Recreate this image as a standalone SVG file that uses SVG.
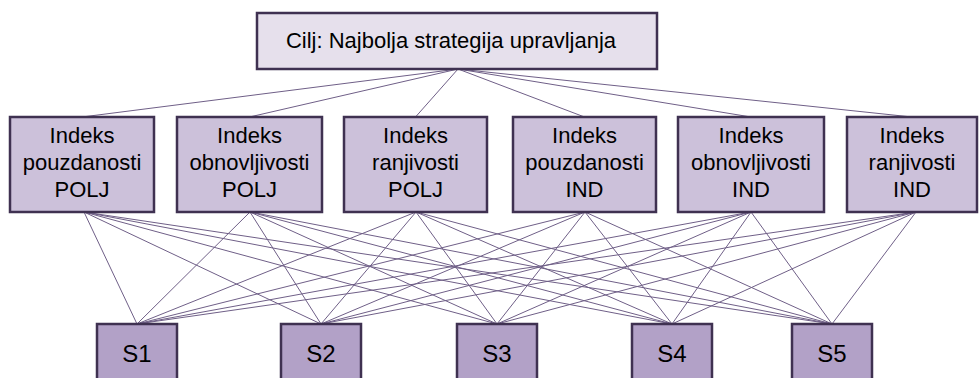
<svg xmlns="http://www.w3.org/2000/svg" width="979" height="378" viewBox="0 0 979 378">
<style>
.box{stroke:#3F3151;stroke-width:2.5}
.goal{fill:#E6E0EC}
.crit{fill:#CCC1DA}
.alt{fill:#B2A1C7}
.t{font-family:"Liberation Sans",Arial,sans-serif;font-size:22px;fill:#000;text-anchor:middle}
.s{font-size:24px}
#connectors line{stroke:#6F5F87;stroke-width:1}
</style>
<rect width="979" height="378" fill="#fff"/>
<g id="connectors">
<line x1="458" y1="69" x2="82" y2="117"/>
<line x1="458" y1="69" x2="249.5" y2="117"/>
<line x1="458" y1="69" x2="415.5" y2="117"/>
<line x1="458" y1="69" x2="584.5" y2="117"/>
<line x1="458" y1="69" x2="751" y2="117"/>
<line x1="458" y1="69" x2="912" y2="117"/>
<line x1="84" y1="212" x2="137" y2="324"/><line x1="84" y1="212" x2="321" y2="324"/><line x1="84" y1="212" x2="497" y2="324"/><line x1="84" y1="212" x2="672" y2="324"/><line x1="84" y1="212" x2="832" y2="324"/>
<line x1="250" y1="212" x2="137" y2="324"/><line x1="250" y1="212" x2="321" y2="324"/><line x1="250" y1="212" x2="497" y2="324"/><line x1="250" y1="212" x2="672" y2="324"/><line x1="250" y1="212" x2="832" y2="324"/>
<line x1="416" y1="212" x2="137" y2="324"/><line x1="416" y1="212" x2="321" y2="324"/><line x1="416" y1="212" x2="497" y2="324"/><line x1="416" y1="212" x2="672" y2="324"/><line x1="416" y1="212" x2="832" y2="324"/>
<line x1="585" y1="212" x2="137" y2="324"/><line x1="585" y1="212" x2="321" y2="324"/><line x1="585" y1="212" x2="497" y2="324"/><line x1="585" y1="212" x2="672" y2="324"/><line x1="585" y1="212" x2="832" y2="324"/>
<line x1="751" y1="212" x2="137" y2="324"/><line x1="751" y1="212" x2="321" y2="324"/><line x1="751" y1="212" x2="497" y2="324"/><line x1="751" y1="212" x2="672" y2="324"/><line x1="751" y1="212" x2="832" y2="324"/>
<line x1="916" y1="212" x2="137" y2="324"/><line x1="916" y1="212" x2="321" y2="324"/><line x1="916" y1="212" x2="497" y2="324"/><line x1="916" y1="212" x2="672" y2="324"/><line x1="916" y1="212" x2="832" y2="324"/>
</g>
<g id="goal">
<rect class="box goal" x="257" y="13" width="400" height="56"/>
<text class="t" x="451" y="48">Cilj: Najbolja strategija upravljanja</text>
</g>
<g id="c1">
<rect class="box crit" x="10" y="117" width="144" height="95"/>
<text class="t" x="82"><tspan x="82" y="143">Indeks</tspan><tspan x="82" y="170">pouzdanosti</tspan><tspan x="82" y="197">POLJ</tspan></text>
</g>
<g id="c2">
<rect class="box crit" x="177" y="117" width="145" height="95"/>
<text class="t"><tspan x="249.5" y="143">Indeks</tspan><tspan x="249.5" y="170">obnovljivosti</tspan><tspan x="249.5" y="197">POLJ</tspan></text>
</g>
<g id="c3">
<rect class="box crit" x="344" y="117" width="143" height="95"/>
<text class="t"><tspan x="415.5" y="143">Indeks</tspan><tspan x="415.5" y="170">ranjivosti</tspan><tspan x="415.5" y="197">POLJ</tspan></text>
</g>
<g id="c4">
<rect class="box crit" x="513" y="117" width="143" height="95"/>
<text class="t"><tspan x="584.5" y="143">Indeks</tspan><tspan x="584.5" y="170">pouzdanosti</tspan><tspan x="584.5" y="197">IND</tspan></text>
</g>
<g id="c5">
<rect class="box crit" x="678" y="117" width="146" height="95"/>
<text class="t"><tspan x="751" y="143">Indeks</tspan><tspan x="751" y="170">obnovljivosti</tspan><tspan x="751" y="197">IND</tspan></text>
</g>
<g id="c6">
<rect class="box crit" x="847" y="117" width="130" height="95"/>
<text class="t"><tspan x="912" y="143">Indeks</tspan><tspan x="912" y="170">ranjivosti</tspan><tspan x="912" y="197">IND</tspan></text>
</g>
<g id="s1"><rect class="box alt" x="97" y="324" width="80" height="70"/><text class="t s" x="137" y="362">S1</text></g>
<g id="s2"><rect class="box alt" x="281" y="324" width="80" height="70"/><text class="t s" x="321" y="362">S2</text></g>
<g id="s3"><rect class="box alt" x="457" y="324" width="80" height="70"/><text class="t s" x="497" y="362">S3</text></g>
<g id="s4"><rect class="box alt" x="632" y="324" width="80" height="70"/><text class="t s" x="672" y="362">S4</text></g>
<g id="s5"><rect class="box alt" x="792" y="324" width="80" height="70"/><text class="t s" x="832" y="362">S5</text></g>
</svg>
